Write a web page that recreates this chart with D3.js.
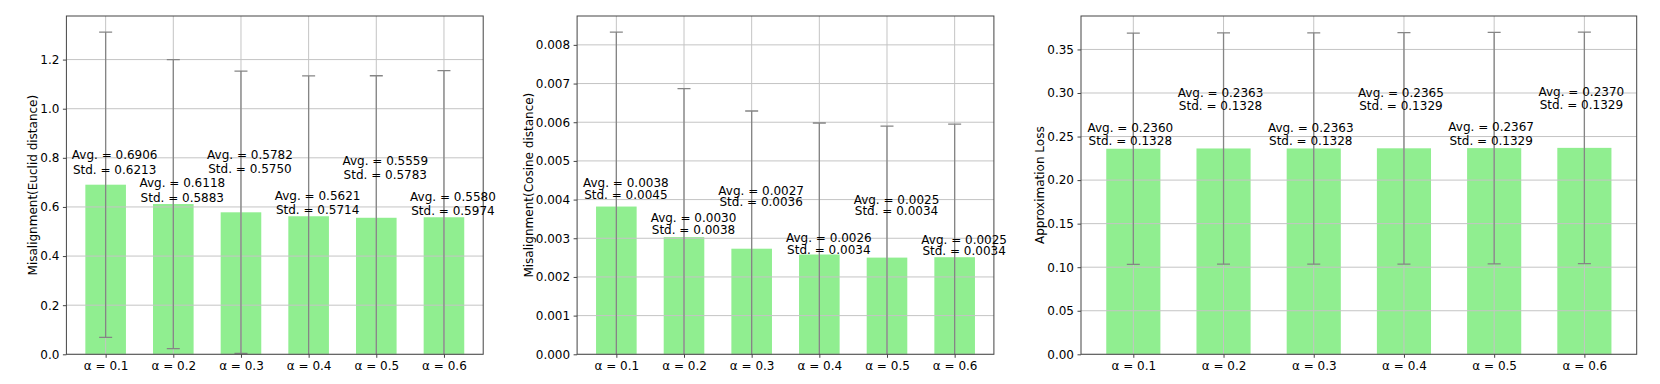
<!DOCTYPE html>
<html>
<head>
<meta charset="utf-8">
<script src="https://cdn.jsdelivr.net/npm/d3@7"></script>
<style>
  body { margin: 0; background: #fff; }
  text { font-family: "DejaVu Sans", sans-serif; fill: #000; }
</style>
</head>
<body>
<div id="chart"></div>
<script>
/*
DATA
*/
var alphas = [0.1, 0.2, 0.3, 0.4, 0.5, 0.6];

var euclidAvg = [0.6906, 0.6118, 0.5782, 0.5621, 0.5559, 0.5580];
var euclidStd = [0.6213, 0.5883, 0.5750, 0.5714, 0.5783, 0.5974];

// cosine values carry one more digit, estimated from bar and cap heights
var cosineAvg = [0.00382, 0.00303, 0.00273, 0.00258, 0.00250, 0.00251];
var cosineStd = [0.00451, 0.00384, 0.00356, 0.00340, 0.00340, 0.00344];

var approxAvg = [0.2360, 0.2363, 0.2363, 0.2365, 0.2367, 0.2370];
var approxStd = [0.1328, 0.1328, 0.1328, 0.1329, 0.1329, 0.1329];

var euclidTicks = [0, 0.2, 0.4, 0.6, 0.8, 1.0, 1.2];
var cosineTicks = [0, 0.001, 0.002, 0.003, 0.004, 0.005, 0.006, 0.007, 0.008];
var approxTicks = [0, 0.05, 0.10, 0.15, 0.20, 0.25, 0.30, 0.35];

// Layout of the three panels (pixels)
var plotTop = 16, plotBottom = 354.3;
var panels = [
  { avg: euclidAvg, std: euclidStd, ticks: euclidTicks, fmt: ".1f",
    title: "Misalignment(Euclid distance)", left: 66.4, right: 483.2, labelX: 33.2,
    lift: [30, 21, 58, 21, 57.5, 21], gap: 14.7, dx: 9 },
  { avg: cosineAvg, std: cosineStd, ticks: cosineTicks, fmt: ".3f",
    title: "Misalignment(Cosine distance)", left: 577.1, right: 993.9, labelX: 528.6,
    lift: [23.5, 19, 58.5, 17, 58.3, 18], gap: 11.7, dx: 9.5 },
  { avg: approxAvg, std: approxStd, ticks: approxTicks, fmt: ".2f",
    title: "Approximation Loss", left: 1081, right: 1636.7, labelX: 1040.4,
    lift: [21, 56, 21, 56, 21, 56.5], gap: 13.3, dx: -3 }
];

var svg = d3.select("#chart").append("svg")
    .attr("width", 1660)
    .attr("height", 384);

panels.forEach(function(p, k) {
  var n = alphas.length;

  // linear x in bar index units, matplotlib-like margins
  var x = d3.scaleLinear()
      .domain([-0.3 - 0.28, n - 1 + 0.3 + 0.28])
      .range([p.left, p.right]);

  var ymax = d3.max(p.avg, function(d, i) { return d + p.std[i]; }) * 1.05;
  var y = d3.scaleLinear()
      .domain([0, ymax])
      .range([plotBottom, plotTop]);

  var g = svg.append("g");

  var clipId = "clip" + k;
  g.append("clipPath").attr("id", clipId)
    .append("rect")
      .attr("x", p.left).attr("y", plotTop)
      .attr("width", p.right - p.left).attr("height", plotBottom - plotTop);

  // bars
  g.append("g").selectAll("rect")
    .data(p.avg)
    .enter().append("rect")
      .attr("x", function(d, i) { return x(i - 0.3); })
      .attr("width", x(0.3) - x(-0.3))
      .attr("y", function(d) { return y(d); })
      .attr("height", function(d) { return y(0) - y(d); })
      .attr("fill", "#90ee90");

  // grid
  var grid = g.append("g").attr("clip-path", "url(#" + clipId + ")");
  grid.selectAll("line.h")
    .data(p.ticks)
    .enter().append("line")
      .attr("x1", p.left).attr("x2", p.right)
      .attr("y1", function(d) { return y(d); })
      .attr("y2", function(d) { return y(d); })
      .attr("stroke", "#c4c4c4").attr("stroke-width", 1);
  grid.selectAll("line.v")
    .data(alphas)
    .enter().append("line")
      .attr("x1", function(d, i) { return x(i); })
      .attr("x2", function(d, i) { return x(i); })
      .attr("y1", plotTop).attr("y2", plotBottom)
      .attr("stroke", "#c4c4c4").attr("stroke-width", 1);

  // error bars
  var err = g.append("g").attr("clip-path", "url(#" + clipId + ")")
    .selectAll("g")
    .data(p.avg)
    .enter().append("g")
      .attr("stroke", "#858585")
      .attr("stroke-width", 1.3);
  err.append("line")
      .attr("x1", function(d, i) { return x(i); })
      .attr("x2", function(d, i) { return x(i); })
      .attr("y1", function(d, i) { return y(d - p.std[i]); })
      .attr("y2", function(d, i) { return y(d + p.std[i]); });
  err.append("line")
      .attr("x1", function(d, i) { return x(i) - 6.5; })
      .attr("x2", function(d, i) { return x(i) + 6.5; })
      .attr("y1", function(d, i) { return y(d + p.std[i]); })
      .attr("y2", function(d, i) { return y(d + p.std[i]); });
  err.append("line")
      .attr("x1", function(d, i) { return x(i) - 6.5; })
      .attr("x2", function(d, i) { return x(i) + 6.5; })
      .attr("y1", function(d, i) { return y(d - p.std[i]); })
      .attr("y2", function(d, i) { return y(d - p.std[i]); });

  // frame
  g.append("rect")
      .attr("x", p.left).attr("y", plotTop)
      .attr("width", p.right - p.left).attr("height", plotBottom - plotTop)
      .attr("fill", "none").attr("stroke", "#444").attr("stroke-width", 1);

  // axes
  var yAxis = d3.axisLeft(y)
      .tickValues(p.ticks)
      .tickFormat(d3.format(p.fmt))
      .tickSize(3.5)
      .tickPadding(3.5);
  var ya = g.append("g")
      .attr("transform", "translate(" + p.left + ",0)")
      .call(yAxis);

  var xAxis = d3.axisBottom(x)
      .tickValues(d3.range(n))
      .tickFormat(function(i) { return "α = " + alphas[i]; })
      .tickSize(3.5)
      .tickPadding(3.5);
  var xa = g.append("g")
      .attr("transform", "translate(0," + plotBottom + ")")
      .call(xAxis);

  [ya, xa].forEach(function(a) {
    a.select(".domain").remove();
    a.selectAll("line").attr("stroke", "#444");
    a.selectAll("text")
      .attr("font-size", 12)
      .style("font-family", "'DejaVu Sans', sans-serif")
      .attr("fill", "#000");
  });

  // y label
  g.append("text")
      .attr("transform", "translate(" + p.labelX + "," + ((plotTop + plotBottom) / 2) + ") rotate(-90)")
      .attr("text-anchor", "middle")
      .attr("dominant-baseline", "central")
      .attr("font-size", 12)
      .text(p.title);

  // annotations
  var ann = g.append("g").selectAll("g")
    .data(p.avg)
    .enter().append("g");
  ann.append("text")
      .attr("x", function(d, i) { return x(i) + p.dx; })
      .attr("y", function(d, i) { return y(d) - p.lift[i] + 4.3; })
      .attr("text-anchor", "middle")
      .attr("font-size", 12)
      .text(function(d) { return "Avg. = " + d.toFixed(4); });
  ann.append("text")
      .attr("x", function(d, i) { return x(i) + p.dx; })
      .attr("y", function(d, i) { return y(d) - p.lift[i] + p.gap + 4.3; })
      .attr("text-anchor", "middle")
      .attr("font-size", 12)
      .text(function(d, i) { return "Std. = " + p.std[i].toFixed(4); });
});
</script>
</body>
</html>
